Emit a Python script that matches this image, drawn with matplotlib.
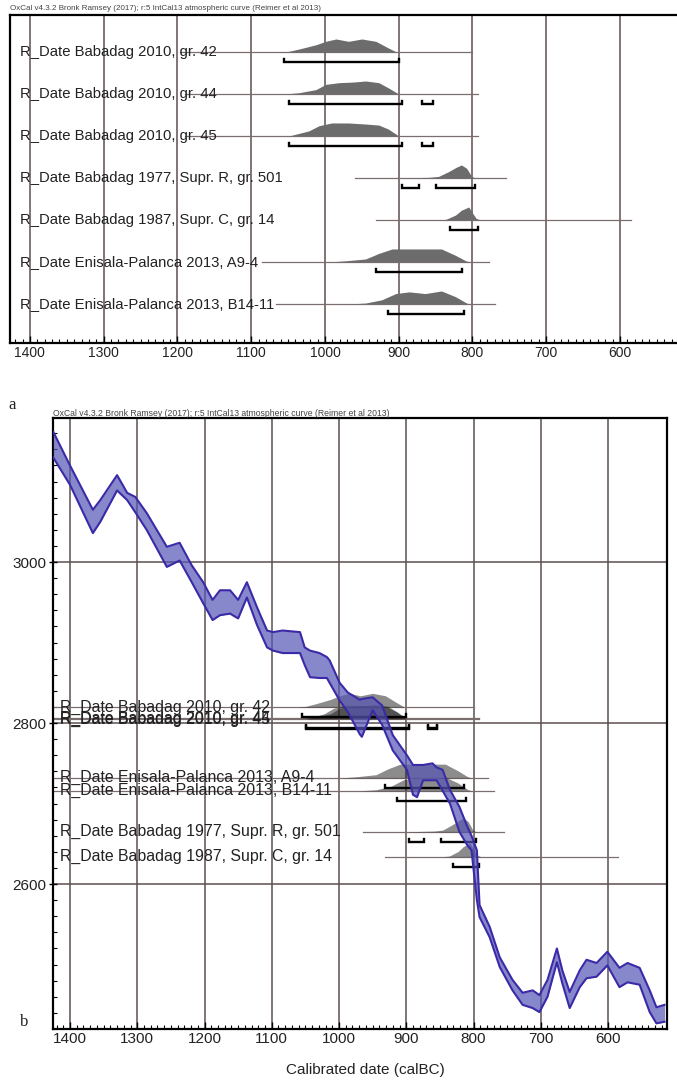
import matplotlib
matplotlib.use("Agg")
import matplotlib.pyplot as plt
import numpy as np
from matplotlib.ticker import MultipleLocator

plt.rcParams['font.family'] = ['Liberation Sans', 'DejaVu Sans']

credit = "OxCal v4.3.2 Bronk Ramsey (2017); r:5 IntCal13 atmospheric curve (Reimer et al 2013)"

# samples, in the order of panel a
labels = ["R_Date Babadag 2010, gr. 42",
          "R_Date Babadag 2010, gr. 44",
          "R_Date Babadag 2010, gr. 45",
          "R_Date Babadag 1977, Supr. R, gr. 501",
          "R_Date Babadag 1987, Supr. C, gr. 14",
          "R_Date Enisala-Palanca 2013, A9-4",
          "R_Date Enisala-Palanca 2013, B14-11"]

# 14C age (BP) used to place each sample on panel b
age_bp = [2820, 2806, 2805, 2665, 2634, 2732, 2716]

# extent of the thin row lines (calBC)
line_start_a = [1197, 1190, 1190, 959, 931, 1085, 1066]
line_start_b = [1426, 1426, 1426, 965, 932, 1426, 1426]
line_end = [800, 792, 792, 755, 585, 778, 769]

# calibrated distributions (calBC, relative probability)
d42_yr = [1062, 1049, 1035, 1012, 999, 985, 968, 950, 931, 914, 903]
d42_p = [0, 0.05, 0.23, 0.56, 0.82, 1.0, 0.82, 1.0, 0.82, 0.31, 0]
d44_yr = [1055, 1035, 1012, 999, 981, 961, 945, 927, 914, 900]
d44_p = [0, 0.10, 0.34, 0.74, 0.87, 0.92, 1.0, 0.87, 0.47, 0]
d45_yr = [1049, 1022, 1008, 991, 968, 945, 927, 914, 900]
d45_p = [0, 0.39, 0.79, 1.0, 1.0, 0.92, 0.84, 0.53, 0]
d501_yr = [900, 859, 846, 832, 822, 815, 808, 801, 796]
d501_p = [0, 0.05, 0.12, 0.5, 0.82, 1.0, 0.75, 0.12, 0]
d14_yr = [846, 836, 823, 815, 805, 801, 795, 789]
d14_p = [0, 0.05, 0.38, 0.75, 1.0, 0.62, 0.12, 0]
da94_yr = [995, 972, 945, 927, 909, 842, 823, 809, 803]
da94_p = [0, 0.09, 0.23, 0.66, 1.0, 1.0, 0.51, 0.09, 0]
db1411_yr = [968, 945, 923, 904, 886, 864, 842, 823, 808, 803]
db1411_p = [0, 0.07, 0.32, 0.8, 0.93, 0.8, 1.0, 0.56, 0.07, 0]

dist_yr = [d42_yr, d44_yr, d45_yr, d501_yr, d14_yr, da94_yr, db1411_yr]
dist_p = [d42_p, d44_p, d45_p, d501_p, d14_p, da94_p, db1411_p]

# 95.4% ranges (calBC)
ranges = [[(1055, 900)],
          [(1049, 896), (868, 854)],
          [(1049, 896), (868, 854)],
          [(896, 873), (849, 797)],
          [(831, 792)],
          [(931, 814)],
          [(914, 811)]]

# IntCal13 band (calBC, upper BP, lower BP)
cal_yr = [1425, 1400, 1366, 1355, 1330, 1315, 1303, 1286, 1256, 1237, 1219, 1202,
          1188, 1177, 1162, 1150, 1137, 1122, 1107, 1098, 1084, 1058, 1051, 1043,
          1029, 1018, 1014, 999, 987, 969, 966, 950, 936, 920, 899, 890, 884, 875,
          861, 855, 846, 835, 821, 809, 803, 795, 791, 776, 761, 742, 727, 712,
          702, 690, 676, 668, 657, 642, 632, 617, 601, 583, 571, 553, 538, 528, 516]
cal_hi = [3162, 3120, 3065, 3077, 3108, 3086, 3081, 3061, 3019, 3024, 2996, 2975,
          2953, 2965, 2965, 2953, 2975, 2944, 2915, 2913, 2915, 2913, 2894, 2890,
          2887, 2882, 2878, 2850, 2838, 2829, 2830, 2832, 2822, 2785, 2760, 2748, 2748, 2748,
          2750, 2745, 2742, 2717, 2696, 2671, 2660, 2642, 2574, 2547, 2509, 2481, 2465, 2468,
          2462, 2481, 2520, 2493, 2466, 2493, 2506, 2502, 2516, 2496, 2502, 2496, 2468, 2447, 2450]
cal_lo = [3130, 3096, 3036, 3050, 3089, 3077, 3062, 3040, 2994, 3002, 2975, 2949,
          2928, 2934, 2936, 2930, 2956, 2922, 2894, 2890, 2887, 2887, 2872, 2857,
          2856, 2856, 2850, 2828, 2814, 2786, 2783, 2816, 2798, 2766, 2742, 2711, 2708, 2729,
          2729, 2729, 2716, 2700, 2665, 2648, 2642, 2580, 2559, 2534, 2497, 2468, 2450, 2446,
          2441, 2460, 2503, 2477, 2446, 2472, 2483, 2485, 2499, 2472, 2478, 2475, 2441, 2427, 2429]

year_ticks = [1400, 1300, 1200, 1100, 1000, 900, 800, 700, 600]
bp_ticks = [3000, 2800, 2600]

W, H = 677, 1081
grid_col = '#5e4f4f'
row_col = '#7a6e6e'

fig = plt.figure(figsize=(W / 100, H / 100), dpi=100)


def style_axis(ax, fs):
    for s in ax.spines.values():
        s.set_color('black')
        s.set_linewidth(1.6)
    ax.set_xticks(year_ticks)
    ax.set_xticklabels([str(t) for t in year_ticks], fontsize=fs, color='#222222')
    ax.xaxis.set_minor_locator(MultipleLocator(10))
    ax.tick_params(axis='x', which='major', direction='in', length=5, width=1, pad=2)
    ax.tick_params(axis='x', which='minor', direction='in', length=3, width=0.8)
    for t in year_ticks:
        ax.axvline(t, color=grid_col, lw=1.1, zorder=0.5)


def draw_range(ax, y, rngs, cap):
    for a, b in rngs:
        ax.plot([a, a, b, b], [y + cap, y, y, y + cap], color='black', lw=1.7,
                solid_joinstyle='miter', zorder=4)


# ---- panel a ----
ax1 = fig.add_axes([10 / W, 1 - 343 / H, 667 / W, 328 / H])
ax1.set_xlim(1427, 522.7)
ax1.set_ylim(-6.929, 0.881)
ax1.set_yticks([])
ax1.spines['right'].set_visible(False)
style_axis(ax1, 10)

for i, name in enumerate(labels):
    y = -i
    ax1.plot([line_start_a[i], line_end[i]], [y, y], color=row_col, lw=0.9, zorder=2)
    ax1.fill_between(dist_yr[i], y, y + 0.31 * np.array(dist_p[i]), color='#6c6c6c',
                     lw=0, zorder=3)
    draw_range(ax1, y - 0.24, ranges[i], 0.07)
    ax1.text(1413.6, y, name, fontsize=10.7, va='center', ha='left', color='#222222', zorder=5)

fig.text(10 / W, 1 - 8 / H, credit, fontsize=5.8, color='#444444', va='center')
fig.text(8 / W, 1 - 405 / H, 'a', family=['Liberation Serif', 'DejaVu Serif'], fontsize=12,
         va='center', color='#222222')

# ---- panel b ----
ax2 = fig.add_axes([53 / W, 1 - 1029 / H, 614 / W, 611 / H])
ax2.set_xlim(1425.3, 512.3)
ax2.set_ylim(2420, 3179)
style_axis(ax2, 11)
ax2.set_yticks(bp_ticks)
ax2.set_yticklabels([str(t) for t in bp_ticks], fontsize=11, color='#222222')
ax2.yaxis.set_minor_locator(MultipleLocator(20))
ax2.tick_params(axis='y', which='major', direction='inout', length=6, width=1, pad=2)
ax2.tick_params(axis='y', which='minor', direction='in', length=3, width=0.8)
for t in bp_ticks:
    ax2.axhline(t, color=grid_col, lw=1.1, zorder=0.5)

for i, name in enumerate(labels):
    y = age_bp[i]
    ax2.plot([line_start_b[i], line_end[i]], [y, y], color=row_col, lw=0.9, zorder=2)
    ax2.fill_between(dist_yr[i], y, y + 17 * np.array(dist_p[i]), color='#1a1a1a',
                     alpha=0.5, lw=0, zorder=3)
    draw_range(ax2, y - 12.4, ranges[i], 3.7)
    ax2.text(1415, y, name, fontsize=11.4, va='center', ha='left', color='#222222', zorder=5)

ax2.fill_between(cal_yr, cal_lo, cal_hi, color='#5555b5', alpha=0.7, lw=0, zorder=6)
ax2.plot(cal_yr, cal_hi, color='#3a2aa8', lw=1.5, zorder=7)
ax2.plot(cal_yr, cal_lo, color='#3a2aa8', lw=1.5, zorder=7)

fig.text(53 / W, 1 - 413 / H, credit, fontsize=6.2, color='#444444', va='center')
fig.text(20 / W, 1 - 1022 / H, 'b', family=['Liberation Serif', 'DejaVu Serif'], fontsize=12,
         va='center', color='#222222')
fig.text(365 / W, 1 - 1070 / H, 'Calibrated date (calBC)', fontsize=11, ha='center',
         va='center', color='#222222')

fig.savefig('out.png', dpi=100)
